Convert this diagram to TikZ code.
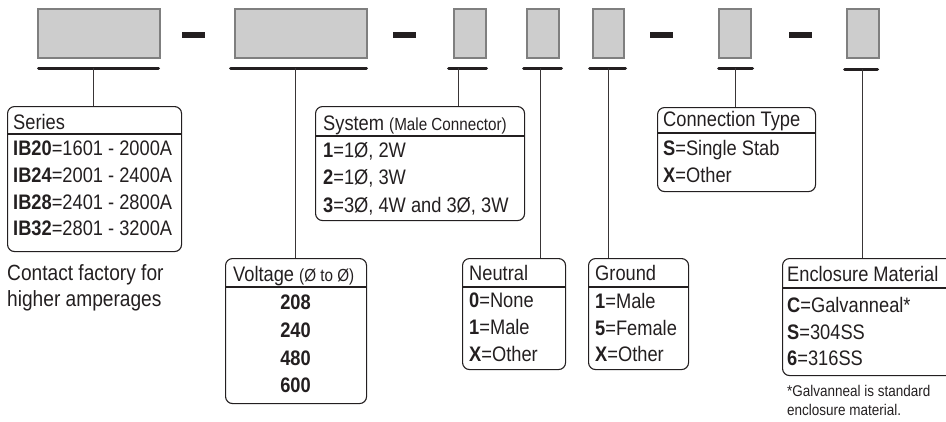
\documentclass[tikz,border=0pt]{standalone}
\usepackage{fontspec}
\setmainfont{Liberation Sans}[FakeStretch=0.87]
\usepackage{xcolor}
\usetikzlibrary{positioning}
\definecolor{ink}{HTML}{231F20}
\definecolor{slotfill}{HTML}{CDCDCD}
\definecolor{slotedge}{HTML}{7F7F7F}
\newcommand{\aside}[1]{{\fontsize{17.5}{20}\selectfont #1}}

\begin{document}
\begin{tikzpicture}[
  x=1pt, y=-1pt,
  font=\fontsize{21}{26.7}\selectfont, text=ink,
  slot/.style={draw=slotedge, line width=1.8pt, fill=slotfill, inner sep=0pt,
               anchor=north west, minimum width=32pt, minimum height=49pt},
  dashbar/.style={fill=ink, inner sep=0pt, minimum width=23pt, minimum height=6pt},
  rule/.style={ink, line width=3pt, line cap=round},
  lead/.style={ink!90, line width=1pt},
  legend/.style={draw=ink, line width=1.1pt, rounded corners=7pt, inner sep=0pt,
                 anchor=north west},
  head/.style={anchor=base west, inner sep=0pt},
  body/.style={anchor=north west, inner sep=0pt, align=left}
]
\useasboundingbox (0,0) rectangle (946,421);
\clip (0,0) rectangle (946,421);

% part number slots
\node[slot, minimum width=122pt] (s1) at (37,8) {};
\node[slot, minimum width=132pt] (s2) at (234,8) {};
\node[slot] (s3) at (453,8) {};
\node[slot] (s4) at (526,8) {};
\node[slot, minimum width=31pt] (s5) at (592,8) {};
\node[slot] (s6) at (718,8) {};
\node[slot] (s7) at (846,8) {};
\node[dashbar] (d1) at (193.5,35) {};
\node[dashbar] (d2) at (404.5,35) {};
\node[dashbar] (d3) at (661.5,35) {};
\node[dashbar] (d4) at (800.5,35) {};

% underlines
\draw[rule] (38.5,68) -- (158.5,68);
\draw[rule] (230.5,68) -- (366.5,68);
\draw[rule] (448.5,68) -- (486.5,68);
\draw[rule] (523.5,68) -- (561.5,68);
\draw[rule] (589.5,68) -- (625.5,68);
\draw[rule] (718.5,68) -- (752.5,68);
\draw[rule] (844.5,69) -- (877.5,69);
\coordinate (l1) at (93,68);
\coordinate (l2) at (295,68);
\coordinate (l3) at (458,68);
\coordinate (l4) at (540,68);
\coordinate (l5) at (608,68);
\coordinate (l6) at (735,68);
\coordinate (l7) at (862,69);

% legend boxes
\node[legend, minimum width=174pt, minimum height=145pt] (ser) at (7,106) {};
\draw[ink, line width=1.1pt] ([yshift=-28pt]ser.north west) -- ([yshift=-28pt]ser.north east);
\node[head] (serh) at (13,129) {Series};
\node[body] (serb) at (13,141)
  {\textbf{IB20}=1601 - 2000A\\ \textbf{IB24}=2001 - 2400A\\
   \textbf{IB28}=2401 - 2800A\\ \textbf{IB32}=2801 - 3200A};
\node[body, font=\fontsize{22}{26.7}\selectfont] (cnote) at (7,264)
  {Contact factory for\\ higher amperages};

\node[legend, minimum width=141pt, minimum height=145pt] (volt) at (225,258) {};
\draw[ink, line width=1.1pt] ([yshift=-29pt]volt.north west) -- ([yshift=-29pt]volt.north east);
\node[head] (volth) at (233,281) {Voltage \aside{(Ø to Ø)}};
\node[anchor=north, inner sep=0pt, align=center, font=\fontsize{21}{27.7}\selectfont\bfseries]
  (voltb) at (295.5,295) {208\\ 240\\ 480\\ 600};

\node[legend, minimum width=209pt, minimum height=114pt] (sys) at (315,106) {};
\draw[ink, line width=1.1pt] ([yshift=-30pt]sys.north west) -- ([yshift=-30pt]sys.north east);
\node[head] (sysh) at (323,130) {System \aside{(Male Connector)}};
\node[body, font=\fontsize{21}{27.5}\selectfont] (sysb) at (323,142)
  {\textbf{1}=1Ø, 2W\\ \textbf{2}=1Ø, 3W\\ \textbf{3}=3Ø, 4W and 3Ø, 3W};

\node[legend, minimum width=103pt, minimum height=111pt] (neu) at (462,258) {};
\draw[ink, line width=1.1pt] ([yshift=-29pt]neu.north west) -- ([yshift=-29pt]neu.north east);
\node[head] (neuh) at (469,280) {Neutral};
\node[body] (neub) at (469,293)
  {\textbf{0}=None\\ \textbf{1}=Male\\ \textbf{X}=Other};

\node[legend, minimum width=100pt, minimum height=111pt] (gnd) at (588,258) {};
\draw[ink, line width=1.1pt] ([yshift=-29pt]gnd.north west) -- ([yshift=-29pt]gnd.north east);
\node[head] (gndh) at (595,280) {Ground};
\node[body] (gndb) at (595,293)
  {\textbf{1}=Male\\ \textbf{5}=Female\\ \textbf{X}=Other};

\node[legend, minimum width=158pt, minimum height=84pt] (conn) at (657,107) {};
\draw[ink, line width=1.1pt] ([yshift=-26pt]conn.north west) -- ([yshift=-26pt]conn.north east);
\node[head] (connh) at (663,126) {Connection Type};
\node[body] (connb) at (663,140)
  {\textbf{S}=Single Stab\\ \textbf{X}=Other};

\node[legend, minimum width=180pt, minimum height=117pt] (encl) at (782,258) {};
\draw[ink, line width=1.1pt] ([yshift=-30pt]encl.north west) -- ([yshift=-30pt]encl.north east);
\node[head] (enclh) at (787,281) {Enclosure Material};
\node[body] (enclb) at (787,297)
  {\textbf{C}=Galvanneal*\\ \textbf{S}=304SS\\ \textbf{6}=316SS};
\node[body, font=\fontsize{15.5}{19}\selectfont] (fnote) at (787,385)
  {*Galvanneal is standard\\ enclosure material.};

% leads from the slots
\draw[lead] (l1) -- (l1 |- ser.north);
\draw[lead] (l2) -- (l2 |- volt.north);
\draw[lead] (l3) -- (l3 |- sys.north);
\draw[lead] (l4) -- (l4 |- neu.north);
\draw[lead] (l5) -- (l5 |- gnd.north);
\draw[lead] (l6) -- (l6 |- conn.north);
\draw[lead] (l7) -- (l7 |- encl.north);
\end{tikzpicture}
\end{document}
